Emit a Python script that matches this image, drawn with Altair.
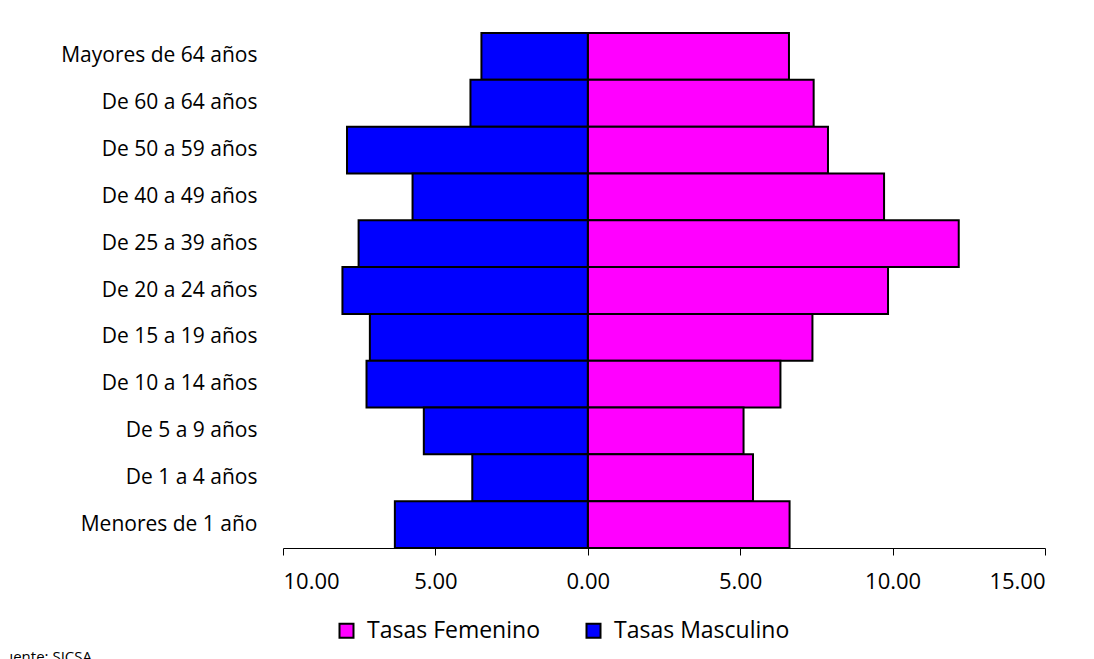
import altair as alt
import pandas as pd

categories = [
    "Mayores de 64 años",
    "De 60 a 64 años",
    "De 50 a 59 años",
    "De 40 a 49 años",
    "De 25 a 39 años",
    "De 20 a 24 años",
    "De 15 a 19 años",
    "De 10 a 14 años",
    "De 5 a 9 años",
    "De 1 a 4 años",
    "Menores de 1 año",
]
femenino = [6.60, 7.41, 7.88, 9.72, 12.17, 9.85, 7.37, 6.32, 5.11, 5.42, 6.62]
masculino = [3.49, 3.85, 7.90, 5.75, 7.52, 8.05, 7.15, 7.26, 5.38, 3.79, 6.33]
series = ["Tasas Femenino", "Tasas Masculino"]
colors = ["#FF00FF", "#0000FF"]
tick_values = [-10, -5, 0, 5, 10, 15]

rows = []
for c, f, m in zip(categories, femenino, masculino):
    rows.append({"grupo": c, "serie": series[0], "valor": f})
    rows.append({"grupo": c, "serie": series[1], "valor": -m})
df = pd.DataFrame(rows)

FONT = "Open Sans"

bars = alt.Chart(df).mark_bar(stroke="black", strokeWidth=2).encode(
    y=alt.Y(
        "grupo:N",
        sort=categories,
        scale=alt.Scale(paddingInner=0, paddingOuter=0),
        axis=alt.Axis(
            title=None,
            ticks=False,
            domain=False,
            labelFontSize=21,
            labelFont=FONT,
            labelColor="#000000",
            labelPadding=26,
            labelLimit=400,
        ),
    ),
    x=alt.X(
        "valor:Q",
        stack=None,
        scale=alt.Scale(domain=[-10, 15], nice=False),
        axis=alt.Axis(
            title=None,
            values=tick_values,
            grid=False,
            domainColor="#000000",
            domainWidth=1,
            tickColor="#000000",
            tickSize=7,
            labelFontSize=22,
            labelFont=FONT,
            labelColor="#000000",
            labelPadding=16,
            labelExpr="format(abs(datum.value), '.2f')",
        ),
    ),
    color=alt.Color(
        "serie:N",
        scale=alt.Scale(domain=series, range=colors),
        legend=alt.Legend(
            title=None,
            orient="none",
            direction="horizontal",
            legendX=52,
            legendY=586,
            symbolType="square",
            symbolSize=196,
            symbolStrokeColor="black",
            symbolStrokeWidth=2,
            symbolOpacity=1,
            labelFontSize=23,
            labelFont=FONT,
            labelColor="#000000",
            labelOffset=9,
            labelLimit=400,
            columnPadding=42,
            padding=0,
        ),
    ),
)

fuente = alt.Chart(pd.DataFrame({"t": ["Fuente: SICSA"]})).mark_text(
    align="right", baseline="alphabetic", fontSize=15, font=FONT, color="#000000"
).encode(text="t:N", x=alt.value(-191), y=alt.value(629))

chart = (
    alt.layer(bars, fuente)
    .properties(
        width=762,
        height=515,
        autosize=alt.AutoSizeParams(type="none"),
        padding={"left": 275, "top": 25, "right": 41, "bottom": 111},
        background="white",
    )
    .configure_view(stroke=None)
)

chart.save("out.html", embed_options={"renderer": "svg", "actions": False})
